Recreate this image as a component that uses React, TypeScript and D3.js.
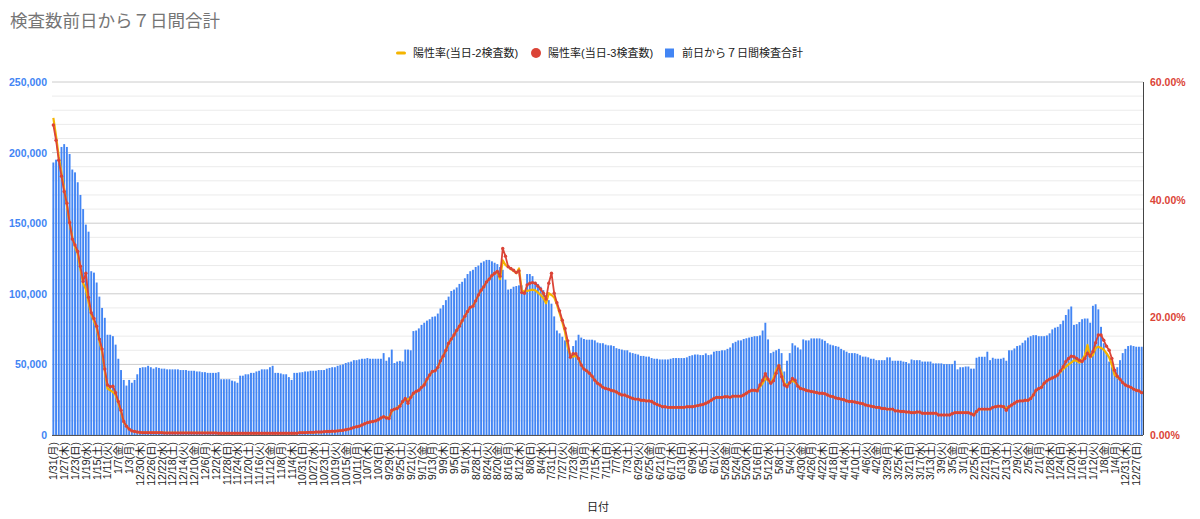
import React, { useEffect } from 'react';
import * as d3 from 'd3';

// ---------- DATA ----------
// Days from 2022-01-31 (left) back to 2020-12-25 (right)
const dates: Date[] = d3.timeDays(new Date(2020, 11, 25), new Date(2022, 1, 1)).reverse();
const weekdayNames = ['日', '月', '火', '水', '木', '金', '土'];

// 前日から７日間検査合計
const weeklyTests = [
  193000,195000,196000,204000,206000,204000,199000,188000,186000,179000,170000,160000,149000,144000,116000,115000,108000,98000,90000,83000,
  71000,71000,70000,64000,54000,46000,39000,35000,39000,37000,39000,43000,47500,48000,48000,49000,48000,47000,48000,47500,
  47000,47000,46500,46500,46500,46500,46500,46000,46000,46000,45500,45500,45500,45000,45000,44500,44500,44000,44000,44000,
  44000,44500,39500,39500,39500,39500,38500,38000,37000,42000,42000,43000,43000,44000,44000,45000,45500,46500,46500,46500,
  48000,49000,44000,44000,43600,43000,43000,41000,39000,44000,44000,44300,44500,45000,45000,45500,45500,45500,46000,46000,
  46000,47000,47500,48000,48000,49000,49500,50000,51000,51500,52000,53000,53000,53500,54000,54000,54500,54000,54000,54000,
  54000,54000,58000,52600,55000,60500,51000,52000,52500,52000,60500,60500,60000,73600,74000,75500,78000,79500,81000,82000,
  83700,84000,86000,89600,92000,95500,98000,102000,103000,104500,107000,108500,111000,114000,116000,117000,119000,120000,122000,123000,
  124000,124000,123000,122000,121000,119000,117000,110000,103000,103500,105000,105500,106000,106000,100000,114000,114000,112500,108500,107000,
  105000,102600,99000,95500,93000,84000,74000,72000,69600,67000,64000,58000,63000,67000,71000,69000,68000,67500,67500,67500,
  67000,65500,65000,65000,64000,63500,63500,63000,61500,61000,60500,60000,60000,58500,58000,57500,57000,56000,56000,55500,
  55500,54500,54000,54000,53500,53500,53500,53500,54000,54500,54500,54500,54500,54500,55000,56000,56500,57000,57000,56600,
  56600,57800,56600,57000,59000,59500,59500,60000,60000,61000,62000,65000,66000,67000,67000,68000,68500,69000,69500,70000,
  70000,70500,74000,79500,67700,58000,59000,60000,61000,58000,45000,52600,58000,65000,63400,62000,60600,67700,67000,67000,
  68400,68400,68400,68400,67700,66700,65000,64000,63500,63000,62500,61000,60000,59000,58000,58000,58000,57500,56500,55500,
  55500,55000,54000,54000,53000,53000,53000,53000,55000,55000,52600,52600,52600,52600,52000,51700,50700,53500,53000,53000,
  53000,52000,52000,52000,52000,50700,50700,50700,50700,50200,50200,50200,50200,52600,46500,48000,48000,48500,48500,47000,
  47000,54700,55400,55400,55400,59000,53000,54700,54000,54000,54000,54700,52600,60000,60000,61300,63000,63500,65300,67000,
  69000,70000,70700,70700,70000,70000,70000,70500,72000,74800,76000,76600,78500,81000,85000,89000,91000,78000,78500,80000,
  82000,82500,82500,79500,91500,92600,89000,76600,65000,58000,52000,48000,44000,48000,53000,58000,61000,63000,63500,63000,
  62500,62500,62500,
];

// 陽性率(当日-3検査数) in %
const positivityMinus3 = [
  52.7,50.1,46.7,44.0,41.4,39.4,36.1,33.3,32.3,31.2,28.7,26.1,27.5,23.4,20.8,19.8,18.5,16.3,14.6,11.2,
  8.5,8.2,8.3,7.2,5.7,4.2,2.3,1.5,1.0,0.7,0.6,0.5,0.45,0.4,0.4,0.4,0.4,0.4,0.4,0.4,
  0.4,0.35,0.35,0.35,0.35,0.35,0.35,0.35,0.35,0.35,0.35,0.35,0.35,0.35,0.35,0.35,0.35,0.35,0.35,0.35,
  0.35,0.3,0.3,0.3,0.3,0.3,0.3,0.3,0.3,0.3,0.3,0.3,0.3,0.3,0.3,0.3,0.3,0.3,0.3,0.3,
  0.3,0.3,0.3,0.3,0.3,0.3,0.3,0.3,0.3,0.3,0.3,0.4,0.4,0.4,0.45,0.45,0.45,0.5,0.5,0.5,
  0.55,0.6,0.6,0.65,0.65,0.7,0.75,0.8,0.9,1.0,1.1,1.3,1.4,1.5,1.7,1.9,2.1,2.2,2.3,2.4,
  2.6,2.9,3.1,2.9,2.8,4.2,4.4,4.5,4.9,5.7,6.2,5.4,6.4,7.1,7.4,7.6,8.1,8.5,9.5,10.2,
  10.8,10.9,11.5,12.6,13.4,14.4,15.6,16.3,17.0,17.8,18.5,19.4,20.2,21.0,21.7,21.9,22.8,23.8,24.6,25.2,
  26.0,26.5,27.1,27.5,27.8,27.0,31.7,30.4,28.6,28.3,28.0,27.6,27.9,24.2,24.1,25.5,25.8,25.9,25.8,25.3,
  24.8,24.1,23.1,25.8,27.5,24.1,22.5,21.1,19.5,18.1,16.0,13.2,13.8,13.8,13.0,11.9,11.2,10.9,10.5,10.0,
  9.3,8.8,8.5,8.1,7.9,7.8,7.6,7.5,7.3,7.0,6.8,6.8,6.6,6.4,6.2,6.1,6.1,5.9,5.9,5.8,
  5.8,5.7,5.4,5.2,5.0,4.8,4.8,4.7,4.7,4.7,4.7,4.7,4.7,4.7,4.8,4.8,4.8,4.9,5.0,5.1,
  5.2,5.4,5.6,5.9,6.2,6.4,6.4,6.4,6.5,6.5,6.4,6.6,6.6,6.6,6.6,6.8,7.1,7.4,7.6,7.6,
  7.5,8.5,9.3,10.4,9.5,8.8,9.2,10.5,11.8,9.9,8.5,8.2,8.9,9.6,9.3,8.3,7.9,7.8,7.6,7.5,
  7.4,7.3,7.2,7.1,7.1,7.0,6.8,6.6,6.5,6.3,6.2,6.1,6.0,5.8,5.7,5.7,5.6,5.5,5.4,5.3,
  5.1,5.0,4.9,4.8,4.7,4.7,4.5,4.5,4.4,4.4,4.4,4.1,4.1,4.0,4.0,3.9,3.9,3.8,3.8,3.9,
  3.9,3.7,3.7,3.7,3.7,3.7,3.7,3.4,3.4,3.4,3.4,3.4,3.6,3.8,3.8,3.8,3.8,3.8,3.8,3.6,
  3.4,4.0,4.4,4.4,4.4,4.4,4.4,4.7,4.8,4.9,4.9,4.8,4.2,4.8,5.1,5.4,5.7,5.8,5.8,5.9,
  5.9,6.2,6.8,7.6,7.9,8.1,8.8,9.2,9.5,9.7,9.9,10.2,10.9,11.6,12.5,13.0,13.4,13.3,13.0,12.7,
  12.5,13.0,13.9,13.4,14.2,15.7,17.0,17.0,16.1,15.1,14.4,13.0,11.0,10.0,9.5,8.9,8.5,8.3,8.1,7.8,
  7.6,7.5,7.2,
];

// 陽性率(当日-2検査数) in %
const positivityMinus2 = [
  53.9,50.8,47.3,44.5,41.8,39.0,36.0,33.6,32.0,30.8,28.2,25.8,24.8,22.6,20.5,19.4,18.2,16.0,14.2,10.9,
  7.9,7.6,7.3,6.8,5.4,4.0,2.2,1.5,1.0,0.7,0.6,0.5,0.45,0.4,0.4,0.4,0.4,0.4,0.4,0.4,
  0.4,0.35,0.35,0.35,0.35,0.35,0.35,0.35,0.35,0.35,0.35,0.35,0.35,0.35,0.35,0.35,0.35,0.35,0.35,0.35,
  0.35,0.3,0.3,0.3,0.3,0.3,0.3,0.3,0.3,0.3,0.3,0.3,0.3,0.3,0.3,0.3,0.3,0.3,0.3,0.3,
  0.3,0.3,0.3,0.3,0.3,0.3,0.3,0.3,0.3,0.3,0.3,0.4,0.4,0.4,0.45,0.45,0.45,0.5,0.5,0.5,
  0.55,0.6,0.6,0.65,0.65,0.7,0.75,0.8,0.9,1.0,1.1,1.3,1.4,1.5,1.7,1.9,2.1,2.2,2.3,2.4,
  2.6,2.9,3.1,3.0,2.9,4.0,4.4,4.6,5.0,5.6,6.1,6.0,6.4,7.0,7.4,7.6,8.1,8.6,9.4,10.2,
  10.8,10.9,11.5,12.6,13.4,14.4,15.6,16.3,17.0,17.8,18.5,19.4,20.2,21.0,21.7,21.9,22.8,23.8,24.6,25.2,
  26.0,26.5,27.1,27.5,27.8,26.5,29.7,28.9,28.6,28.2,27.9,27.5,28.3,24.6,24.3,24.5,24.6,24.7,24.6,24.2,
  23.8,23.3,22.4,24.1,23.8,23.4,22.2,20.7,19.2,17.5,15.0,13.4,13.3,13.5,12.9,11.9,11.2,10.9,10.5,10.0,
  9.3,8.8,8.5,8.1,7.9,7.8,7.6,7.5,7.3,7.0,6.8,6.8,6.6,6.4,6.2,6.1,6.1,5.9,5.9,5.8,
  5.8,5.7,5.4,5.2,5.0,4.8,4.8,4.7,4.7,4.7,4.7,4.7,4.7,4.7,4.8,4.8,4.8,4.9,5.0,5.1,
  5.2,5.4,5.6,5.9,6.2,6.4,6.4,6.4,6.5,6.5,6.4,6.6,6.6,6.6,6.6,6.8,7.1,7.4,7.6,7.6,
  7.5,8.2,8.8,9.6,9.3,8.8,9.6,11.0,11.9,10.5,8.8,8.4,8.9,9.2,9.0,8.4,7.9,7.8,7.6,7.5,
  7.4,7.3,7.2,7.1,7.1,7.0,6.8,6.6,6.5,6.3,6.2,6.1,6.0,5.8,5.7,5.7,5.6,5.5,5.4,5.3,
  5.1,5.0,4.9,4.8,4.7,4.7,4.5,4.5,4.4,4.4,4.4,4.1,4.1,4.0,4.0,3.9,3.9,3.8,3.8,3.9,
  3.9,3.7,3.7,3.7,3.7,3.7,3.7,3.4,3.4,3.4,3.4,3.4,3.6,3.8,3.8,3.8,3.8,3.8,3.8,3.6,
  3.4,4.0,4.4,4.4,4.4,4.4,4.4,4.7,4.8,4.9,4.9,4.8,4.5,4.8,5.1,5.4,5.7,5.8,5.8,5.9,
  5.9,6.2,6.8,7.6,7.9,8.1,8.8,9.2,9.5,9.7,9.9,10.2,10.7,11.2,11.6,12.0,12.3,12.7,12.6,12.3,
  12.8,13.5,15.3,13.2,13.6,14.8,15.0,14.8,14.5,13.9,13.2,11.9,10.2,9.8,9.5,8.9,8.5,8.3,8.1,7.8,
  7.6,7.5,7.2,
];

const leftTicks = [0, 50000, 100000, 150000, 200000, 250000];
const leftTickLabels = ['0', '50,000', '100,000', '150,000', '200,000', '250,000'];
const rightTicks = [0, 20, 40, 60];
const rightTickLabels = ['0.00%', '20.00%', '40.00%', '60.00%'];
const gridValues = d3.range(0, 250001, 10000);

const xTickIndex = d3.range(0, dates.length, 4);
const xTickLabels = xTickIndex.map((i) => {
  const d = dates[i];
  return `${d.getMonth() + 1}/${d.getDate()}(${weekdayNames[d.getDay()]})`;
});

const legendLabels = ['陽性率(当日-2検査数)', '陽性率(当日-3検査数)', '前日から７日間検査合計'];
const titleText = '検査数前日から７日間合計';
const xAxisTitle = '日付';

// ---------- LAYOUT ----------
const W = 1200;
const H = 519;
const plot = { left: 52, right: 1143, top: 82, bottom: 435 };
const FONT = "'Liberation Sans', Arial, 'Noto Sans CJK JP', sans-serif";
const BLUE = '#4285f4';
const RED = '#db4437';
const ORANGE = '#f4b400';

export default function App() {
  useEffect(() => {
    document.body.style.margin = '0';
  }, []);

  const idx = d3.range(weeklyTests.length);
  const x = d3
    .scaleBand<number>()
    .domain(idx)
    .range([plot.left, plot.right])
    .paddingInner(0.3)
    .paddingOuter(0.15);
  const cx = (i: number) => (x(i) as number) + x.bandwidth() / 2;
  const yL = d3.scaleLinear().domain([0, 250000]).range([plot.bottom, plot.top]);
  const yR = d3.scaleLinear().domain([0, 60]).range([plot.bottom, plot.top]);

  const lineGen = d3
    .line<number>()
    .x((_, i) => cx(i))
    .y((v) => yR(v));

  return (
    <svg
      width={W}
      height={H}
      style={{ display: 'block', position: 'absolute', left: 0, top: 0, background: '#fff' }}
      fontFamily={FONT}
    >
      <rect x={0} y={0} width={W} height={H} fill="#fff" />
      {/* title */}
      <text x={10} y={27} fontSize={17.5} fill="#757575">
        {titleText}
      </text>

      {/* legend */}
      <g fontSize={11} fill="#222">
        <rect x={396} y={51.5} width={10} height={3} rx={1.5} fill={ORANGE} />
        <text x={413} y={53} dominantBaseline="central">{legendLabels[0]}</text>
        <circle cx={536} cy={53} r={5} fill={RED} />
        <text x={548} y={53} dominantBaseline="central">{legendLabels[1]}</text>
        <rect x={665} y={48.5} width={9} height={9} fill={BLUE} />
        <text x={682} y={53} dominantBaseline="central">{legendLabels[2]}</text>
      </g>

      {/* gridlines */}
      {gridValues.map((v) => (
        <line
          key={'g' + v}
          x1={plot.left}
          x2={plot.right}
          y1={yL(v)}
          y2={yL(v)}
          stroke={v % 50000 === 0 ? '#cccccc' : '#ebebeb'}
          strokeWidth={1}
        />
      ))}

      {/* bars */}
      {weeklyTests.map((v, i) => (
        <rect
          key={'b' + i}
          x={x(i)}
          y={yL(v)}
          width={x.bandwidth()}
          height={plot.bottom - yL(v)}
          fill={BLUE}
        />
      ))}

      {/* lines */}
      <path d={lineGen(positivityMinus2) || ''} fill="none" stroke={ORANGE} strokeWidth={2.2} strokeLinejoin="round" />
      <path d={lineGen(positivityMinus3) || ''} fill="none" stroke={RED} strokeWidth={1.8} strokeLinejoin="round" />
      {positivityMinus3.map((v, i) => (
        <circle key={'p' + i} cx={cx(i)} cy={yR(v)} r={1.7} fill={RED} />
      ))}

      {/* axes lines */}
      <line x1={plot.left} x2={plot.right} y1={plot.bottom + 0.5} y2={plot.bottom + 0.5} stroke="#555" />
      <line x1={plot.right + 0.5} x2={plot.right + 0.5} y1={plot.top} y2={plot.bottom} stroke="#444" />

      {/* left axis labels */}
      {leftTicks.map((v, i) => (
        <text
          key={'l' + v}
          x={47}
          y={yL(v)}
          textAnchor="end"
          dominantBaseline="central"
          fontSize={10.5}
          fontWeight="bold"
          fill={BLUE}
        >
          {leftTickLabels[i]}
        </text>
      ))}

      {/* right axis labels */}
      {rightTicks.map((v, i) => (
        <text
          key={'r' + v}
          x={1150}
          y={yR(v)}
          textAnchor="start"
          dominantBaseline="central"
          fontSize={10.5}
          fontWeight="bold"
          fill={RED}
        >
          {rightTickLabels[i]}
        </text>
      ))}

      {/* x axis labels */}
      {xTickIndex.map((i, k) => {
        const px = cx(i);
        const py = 442;
        return (
          <text
            key={'x' + i}
            x={px}
            y={py}
            transform={`rotate(-90, ${px}, ${py})`}
            textAnchor="end"
            dominantBaseline="central"
            fontSize={10.5}
            fill="#222"
          >
            {xTickLabels[k]}
          </text>
        );
      })}

      <text x={598} y={507} textAnchor="middle" dominantBaseline="central" fontSize={11} fill="#222">
        {xAxisTitle}
      </text>
    </svg>
  );
}
